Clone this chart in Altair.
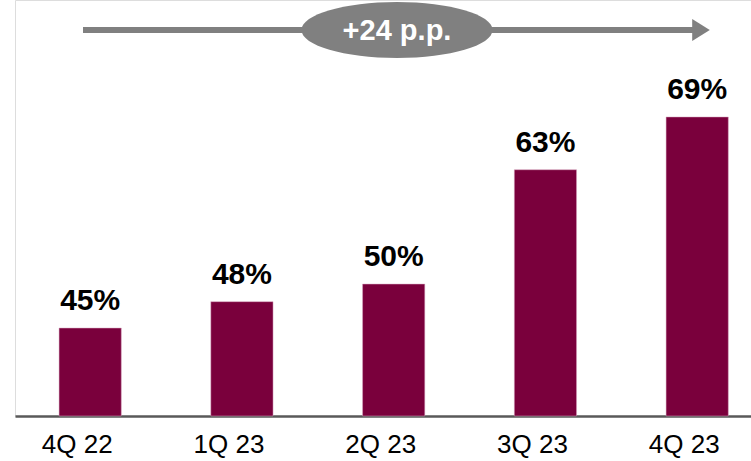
import altair as alt
import pandas as pd

categories = ["4Q 22", "1Q 23", "2Q 23", "3Q 23", "4Q 23"]
values = [45, 48, 50, 63, 69]
change_label = "+24 p.p."

Y_MIN, Y_MAX = 35.0, 82.3
PW, PH = 736, 416
BAR_COLOR = "#7A003C"
GRAY = "#808080"
FONT = "Liberation Sans"

df = pd.DataFrame({"cat": categories, "val": values})
df["label"] = [f"{v}%" for v in values]

xs = alt.X(
    "cat:N", sort=categories, title=None,
    scale=alt.Scale(paddingInner=0.59, paddingOuter=0.22, align=0.66),
    axis=alt.Axis(labelAngle=0, labelFont=FONT, labelFontSize=26, labelColor="#000000",
                  labelPadding=15, labelOffset=-13, ticks=False, domainColor="#595959",
                  domainWidth=2.5, grid=False),
)
ys = alt.Y("val:Q", title=None, scale=alt.Scale(domain=[Y_MIN, Y_MAX], zero=False, nice=False),
           axis=None)

base = alt.Chart(df)
bars = base.mark_bar(color=BAR_COLOR, stroke="#d9a6c0", strokeWidth=0.5).encode(
    x=xs, y=ys, y2=alt.datum(Y_MIN)
)
labels = base.mark_text(font=FONT, fontSize=30, fontWeight="bold", baseline="alphabetic",
                        dy=-18, color="#000000").encode(
    x=alt.X("cat:N", sort=categories), y="val:Q", text="label:N"
)

ann = pd.DataFrame({"t": [change_label]})
arrow_line = alt.Chart(ann).mark_rule(color=GRAY, strokeWidth=6).encode(
    x=alt.value(68), x2=alt.value(688), y=alt.value(30)
)
arrow_head = alt.Chart(ann).mark_point(
    shape="M -0.8 -1 L 0.8 0 L -0.8 1 Z", filled=True, color=GRAY, opacity=1, size=484
).encode(x=alt.value(686), y=alt.value(30))
ellipse = alt.Chart(ann).mark_point(
    shape="M -1 0 A 1 0.293 0 1 0 1 0 A 1 0.293 0 1 0 -1 0 Z",
    filled=True, color=GRAY, opacity=1, size=191 * 191
).encode(x=alt.value(382), y=alt.value(30))
ell_text = alt.Chart(ann).mark_text(font=FONT, fontSize=29, fontWeight="bold",
                                    color="#ffffff", baseline="alphabetic").encode(
    x=alt.value(382), y=alt.value(40), text="t:N"
)

chart = alt.layer(bars, labels, arrow_line, arrow_head, ellipse, ell_text).properties(
    width=PW, height=PH,
    autosize=alt.AutoSizeParams(type="none"),
    padding={"left": 15, "top": 0, "right": 0, "bottom": 45},
).configure_view(stroke=None).configure(background="#ffffff")

chart.save("out.html", embed_options={"renderer": "svg", "actions": False})
